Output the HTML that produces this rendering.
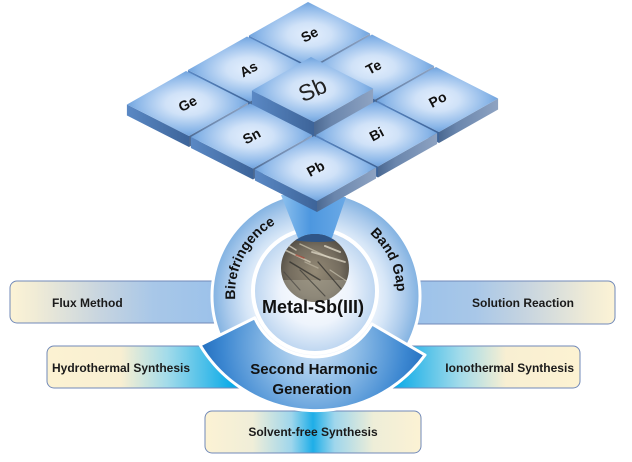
<!DOCTYPE html>
<html><head><meta charset="utf-8">
<style>
html,body{margin:0;padding:0;background:#fff;}
svg{display:block;}
text{font-family:"Liberation Sans",Arial,sans-serif;}
</style></head><body>
<svg width="632" height="462" viewBox="0 0 632 462" xmlns="http://www.w3.org/2000/svg">
<defs>
 <linearGradient id="gFlux" gradientUnits="userSpaceOnUse" x1="10" y1="0" x2="215" y2="0">
  <stop offset="0" stop-color="#fcf3d6"/><stop offset="0.12" stop-color="#f1ecd6"/><stop offset="0.45" stop-color="#c6d4e0"/><stop offset="0.7" stop-color="#a8c7e8"/><stop offset="1" stop-color="#9cc2ea"/>
 </linearGradient>
 <linearGradient id="gSol" gradientUnits="userSpaceOnUse" x1="415" y1="0" x2="615" y2="0">
  <stop offset="0" stop-color="#9cc2ea"/><stop offset="0.3" stop-color="#a8c7e8"/><stop offset="0.55" stop-color="#c6d4e0"/><stop offset="0.88" stop-color="#f1ecd6"/><stop offset="1" stop-color="#fcf3d6"/>
 </linearGradient>
 <linearGradient id="gHyd" gradientUnits="userSpaceOnUse" x1="47" y1="0" x2="232" y2="0">
  <stop offset="0" stop-color="#fcf2d2"/><stop offset="0.4" stop-color="#f8efd2"/><stop offset="0.65" stop-color="#a2dbea"/><stop offset="1" stop-color="#0cabe8"/>
 </linearGradient>
 <linearGradient id="gIon" gradientUnits="userSpaceOnUse" x1="395" y1="0" x2="580" y2="0">
  <stop offset="0" stop-color="#0cabe8"/><stop offset="0.35" stop-color="#a2dbea"/><stop offset="0.6" stop-color="#f8efd2"/><stop offset="1" stop-color="#fcf2d2"/>
 </linearGradient>
 <linearGradient id="gSolv" gradientUnits="userSpaceOnUse" x1="205" y1="0" x2="421" y2="0">
  <stop offset="0" stop-color="#fcf2d4"/><stop offset="0.22" stop-color="#f0eed8"/><stop offset="0.4" stop-color="#9fd6ec"/><stop offset="0.5" stop-color="#1eaee8"/><stop offset="0.6" stop-color="#9fd6ec"/><stop offset="0.78" stop-color="#eeeed8"/><stop offset="1" stop-color="#fcf2d4"/>
 </linearGradient>
 <radialGradient id="gOuter" gradientUnits="userSpaceOnUse" cx="316" cy="296" r="104">
  <stop offset="0.55" stop-color="#eef4fc"/><stop offset="0.68" stop-color="#d6e6f7"/><stop offset="0.85" stop-color="#accbec"/><stop offset="1" stop-color="#80b1e1"/>
 </radialGradient>
 <radialGradient id="gInner" gradientUnits="userSpaceOnUse" cx="315" cy="291" r="62">
  <stop offset="0" stop-color="#ffffff"/><stop offset="0.55" stop-color="#eef4fc"/><stop offset="1" stop-color="#bcd5f0"/>
 </radialGradient>
 <radialGradient id="gShg" gradientUnits="userSpaceOnUse" cx="314" cy="345" r="122">
  <stop offset="0" stop-color="#d0e3f6"/><stop offset="0.35" stop-color="#8fbde7"/><stop offset="0.75" stop-color="#3c87d1"/><stop offset="1" stop-color="#1a66b8"/>
 </radialGradient>
 <linearGradient id="gCone" x1="0" y1="0" x2="1" y2="0">
  <stop offset="0" stop-color="#8cc0ee"/><stop offset="0.45" stop-color="#4d97df"/><stop offset="1" stop-color="#6aa9e6"/>
 </linearGradient>
 <radialGradient id="gPhoto" cx="0.5" cy="0.55" r="0.6">
  <stop offset="0" stop-color="#948a76"/><stop offset="0.6" stop-color="#756d5f"/><stop offset="1" stop-color="#45413a"/>
 </radialGradient>
 <radialGradient id="gTop" cx="0.5" cy="0.5" r="0.6">
  <stop offset="0" stop-color="#e4effd"/><stop offset="0.3" stop-color="#d0e2f8"/><stop offset="0.7" stop-color="#8ab6e8"/><stop offset="1" stop-color="#4f8ad0"/>
 </radialGradient>
 <linearGradient id="gL" x1="0" y1="0" x2="1" y2="0">
  <stop offset="0" stop-color="#5a88c4"/><stop offset="1" stop-color="#3d6499"/>
 </linearGradient>
 <linearGradient id="gR" x1="0" y1="0" x2="1" y2="0">
  <stop offset="0" stop-color="#4a6891"/><stop offset="0.3" stop-color="#6a86ad"/><stop offset="1" stop-color="#8ea3c2"/>
 </linearGradient>
 <clipPath id="cpPhoto"><circle cx="315" cy="268" r="34"/></clipPath>
 <g id="tile">
  <polygon points="-60.6,1 1.5,32.5 1.5,43.5 -60.6,12" fill="url(#gL)"/>
  <polygon points="1.5,32.5 60.6,-1 60.6,10 1.5,43.5" fill="url(#gR)"/>
  <polygon points="-1.5,-32.5 60.6,-1 1.5,32.5 -60.6,1" fill="url(#gTop)"/>
 </g>
 <g id="tileSb">
  <polygon points="-60.6,1 1.5,32.5 1.5,55.5 -60.6,24" fill="url(#gL)"/>
  <polygon points="1.5,32.5 60.6,-1 60.6,22 1.5,55.5" fill="url(#gR)"/>
  <polygon points="-1.5,-32.5 60.6,-1 1.5,32.5 -60.6,1" fill="url(#gTop)"/>
 </g>
 <path id="pBire" d="M236.8,310.8 A81,81 0 0,1 285.7,218.9"/>
 <path id="pBand" d="M350.2,220.6 A81,81 0 0,1 394.2,315.0"/>
</defs>

<!-- method boxes -->
<rect x="10" y="281" width="250" height="42" rx="7" fill="url(#gFlux)" stroke="#7189b8" stroke-width="1"/>
<rect x="372" y="281" width="243" height="43" rx="7" fill="url(#gSol)" stroke="#7189b8" stroke-width="1"/>
<rect x="47" y="346" width="220" height="42" rx="7" fill="url(#gHyd)" stroke="#7189b8" stroke-width="1"/>
<rect x="365" y="346" width="215" height="42" rx="7" fill="url(#gIon)" stroke="#7189b8" stroke-width="1"/>
<rect x="205" y="411" width="216" height="42" rx="7" fill="url(#gSolv)" stroke="#7189b8" stroke-width="1"/>

<g font-size="12" font-weight="bold" fill="#1a1a1a">
 <text x="52" y="307">Flux Method</text>
 <text x="574" y="307" text-anchor="end">Solution Reaction</text>
 <text x="52" y="372">Hydrothermal Synthesis</text>
 <text x="574" y="372" text-anchor="end">Ionothermal Synthesis</text>
 <text x="313" y="436" text-anchor="middle">Solvent-free Synthesis</text>
</g>

<!-- rings -->
<circle cx="316" cy="296" r="104" fill="url(#gOuter)" stroke="#ffffff" stroke-width="3"/>
<circle cx="315" cy="291" r="62" fill="url(#gInner)" stroke="#ffffff" stroke-width="4"/>
<path d="M200,345 A135,135 0 0,0 425,355 L372,324 A66,66 0 0,1 254.7,317.8 Z" fill="url(#gShg)" stroke="#ffffff" stroke-width="3" stroke-linejoin="round"/>

<!-- cone -->
<polygon points="281,195 346,197 332,238 298,238" fill="url(#gCone)"/>

<!-- photo -->
<g clip-path="url(#cpPhoto)">
 <rect x="280" y="233" width="70" height="70" fill="url(#gPhoto)"/>
 <rect x="280" y="280" width="70" height="23" fill="#a8a494" opacity="0.5"/>
 <ellipse cx="318" cy="236" rx="32" ry="6" fill="#2f5587"/>
 <g stroke-linecap="round">
  <line x1="285" y1="250" x2="310" y2="262" stroke="#d0c9b5" stroke-width="1.6" opacity="0.8"/>
  <line x1="300" y1="244" x2="330" y2="258" stroke="#c4bda8" stroke-width="1.4" opacity="0.8"/>
  <line x1="312" y1="252" x2="345" y2="262" stroke="#e0dac8" stroke-width="1.8" opacity="0.75"/>
  <line x1="290" y1="262" x2="320" y2="280" stroke="#2c2b29" stroke-width="1.5" opacity="0.7"/>
  <line x1="318" y1="262" x2="342" y2="290" stroke="#2c2b29" stroke-width="1.3" opacity="0.7"/>
  <line x1="300" y1="270" x2="325" y2="296" stroke="#3a3935" stroke-width="1.2" opacity="0.7"/>
  <line x1="284" y1="272" x2="300" y2="290" stroke="#4a4844" stroke-width="1.2" opacity="0.7"/>
  <line x1="325" y1="246" x2="340" y2="252" stroke="#f0ead8" stroke-width="2" opacity="0.7"/>
  <line x1="296" y1="255" x2="304" y2="258" stroke="#b03a2a" stroke-width="1.5" opacity="0.6"/>
  <line x1="330" y1="270" x2="348" y2="282" stroke="#d6d0bd" stroke-width="1.2" opacity="0.6"/>
  <line x1="288" y1="245" x2="296" y2="250" stroke="#e8e2d0" stroke-width="1.5" opacity="0.7"/>
  <line x1="305" y1="262" x2="318" y2="268" stroke="#bdb6a2" stroke-width="1.4" opacity="0.7"/>
 </g>
</g>

<!-- center texts -->
<text x="313" y="313" text-anchor="middle" font-size="18" font-weight="bold" fill="#111">Metal-Sb(III)</text>
<text x="314" y="374" text-anchor="middle" font-size="15" font-weight="bold" fill="#111">Second Harmonic</text>
<text x="312" y="394" text-anchor="middle" font-size="15" font-weight="bold" fill="#111">Generation</text>
<text font-size="14" font-weight="bold" fill="#111"><textPath href="#pBire" startOffset="50%" text-anchor="middle">Birefringence</textPath></text>
<text font-size="14" font-weight="bold" fill="#111"><textPath href="#pBand" startOffset="50%" text-anchor="middle">Band Gap</textPath></text>

<!-- tiles -->
<g font-weight="bold" font-size="14" fill="#111" text-anchor="middle">
 <use href="#tile" transform="translate(309.5,34.5)"/>
 <text transform="translate(309.5,34.5) rotate(-28)" y="5">Se</text>
 <use href="#tile" transform="translate(248.5,69)"/>
 <text transform="translate(248.5,69) rotate(-28)" y="5">As</text>
 <use href="#tile" transform="translate(373.5,67)"/>
 <text transform="translate(373.5,67) rotate(-28)" y="5">Te</text>
 <use href="#tile" transform="translate(187.5,103.5)"/>
 <text transform="translate(187.5,103.5) rotate(-28)" y="5">Ge</text>
 <use href="#tile" transform="translate(437.5,99.5)"/>
 <text transform="translate(437.5,99.5) rotate(-28)" y="5">Po</text>
 <use href="#tileSb" transform="translate(312.5,89.5)"/>
 <text transform="translate(312.5,89.5) rotate(-24)" y="8" font-size="23" font-weight="normal" fill="#222">Sb</text>
 <use href="#tile" transform="translate(251.5,136)"/>
 <text transform="translate(251.5,136) rotate(-28)" y="5">Sn</text>
 <use href="#tile" transform="translate(376.5,134)"/>
 <text transform="translate(376.5,134) rotate(-28)" y="5">Bi</text>
 <use href="#tile" transform="translate(315.5,168.5)"/>
 <text transform="translate(315.5,168.5) rotate(-28)" y="5">Pb</text>
</g>
</svg>
</body></html>
